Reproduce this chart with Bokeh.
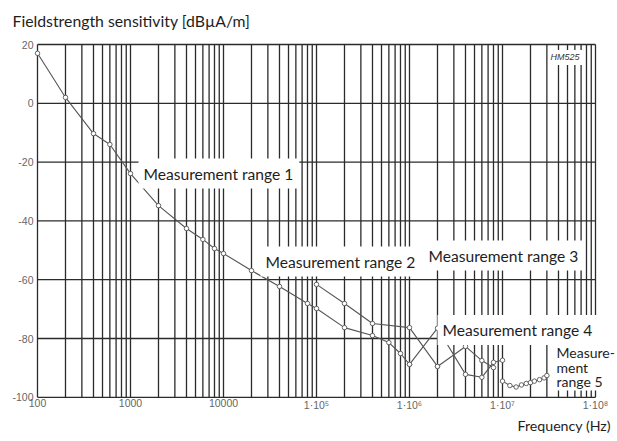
from bokeh.plotting import figure
from bokeh.models import Label, Range1d, BoxAnnotation
from bokeh.core.properties import value
from bokeh.embed import file_html
from bokeh.resources import INLINE

# ---- data ----
r1_freq = [100, 200, 400, 600, 1e3, 2e3, 4e3, 6e3, 8e3, 1e4, 2e4, 4e4, 8e4, 1e5, 2e5, 4e5, 6e5, 8e5, 1e6]
r1_db = [17, 2, -10.3, -14, -23.9, -34.8, -42.6, -46.3, -49.4, -51.1, -56.9, -62.3, -68.1, -69.8, -76.3, -79, -81.4, -85.1, -88.8]

r2_freq = [1e5, 2e5, 4e5, 1e6, 2e6]
r2_db = [-61.6, -68.1, -74.9, -76.3, -89.5]

r3_freq = [1e6, 2e6, 4e6, 6e6, 8e6, 1e7]
r3_db = [-88.8, -76.5, -92.2, -93.2, -88.1, -87.4]

r4_freq = [2e6, 4e6, 6e6, 8e6]
r4_db = [-89.5, -82.7, -87.5, -89.9]

r5_freq = [1.0e7, 1.2e7, 1.4e7, 1.6e7, 1.8e7, 2.0e7, 2.2e7, 2.5e7, 2.8e7, 3.0e7]
r5_db = [-94.5, -96.0, -96.5, -95.8, -95.3, -95.0, -94.5, -94.0, -93.4, -92.6]

series = [(r1_freq, r1_db), (r2_freq, r2_db), (r3_freq, r3_db), (r4_freq, r4_db), (r5_freq, r5_db)]

x_ticks = [1e2, 1e3, 1e4, 1e5, 1e6, 1e7, 1e8]
x_tick_labels = ["100", "1000", "10000", "1\u00b710\u2075", "1\u00b710\u2076", "1\u00b710\u2077", "1\u00b710\u2078"]
y_ticks = [20, 0, -20, -40, -60, -80, -100]
y_tick_labels = ["20", "0", "-20", "-40", "-60", "-80", "-100"]

title_text = "Fieldstrength sensitivity [dB\u00b5A/m]"
xlabel_text = "Frequency (Hz)"
range_labels = ["Measurement range 1", "Measurement range 2", "Measurement range 3",
                "Measurement range 4"]
range5_lines = ["Measure-", "ment", "range 5"]

# ---- layout helpers (pixel placement of the chart frame) ----
W, H = 617, 441
LEFT, TOP, DEC_PX, DB_PX = 37, 44, 93.0, 2.94
F0, DB0 = 100.0, 20.0


def fx(px):
    return F0 * 10 ** ((px - LEFT) / DEC_PX)


def fy(py):
    return DB0 - (py - TOP) / DB_PX


p = figure(width=W, height=H, x_axis_type="log", title=None,
           x_range=Range1d(fx(0), fx(W)), y_range=Range1d(fy(H), fy(0)),
           x_axis_location=None, y_axis_location=None,
           output_backend="svg", toolbar_location=None, min_border=0)
p.outline_line_color = None
p.background_fill_color = "white"
p.border_fill_color = "white"
p.xgrid.visible = False
p.ygrid.visible = False

xmin, xmax = x_ticks[0], x_ticks[-1]
ymin, ymax = min(y_ticks), max(y_ticks)
grid_pos = [m * 10 ** k for k in range(2, 8) for m in range(1, 10)] + [xmax]
GRID = "#2b2b2b"
p.segment(x0=grid_pos, y0=ymin, x1=grid_pos, y1=ymax, line_color=GRID, line_width=1.3)
p.segment(x0=xmin, y0=y_ticks, x1=xmax, y1=y_ticks, line_color=GRID, line_width=1.3)

# tick labels
p.text(x=x_ticks, y=[ymin] * len(x_ticks), text=x_tick_labels, y_offset=2,
       text_align="center", text_baseline="top", text_font=value("Liberation Sans"),
       text_font_size="10.5px", text_color="#666666")
p.text(x=[xmin] * len(y_ticks), y=y_ticks, text=y_tick_labels, x_offset=-4,
       text_align="right", text_baseline="middle", text_font=value("Liberation Sans"),
       text_font_size="10.5px", text_color="#666666")

for f, d in series:
    p.line(f, d, line_color="#555555", line_width=1.1)
    p.scatter(f, d, marker="circle", size=4.5, fill_color="white", line_color="#555555", line_width=0.9)

FONT = "Lato"
FS = "15.6px"
pad = dict(left=5, right=6, top=6, bottom=6)
label_px = [(138, 173), (260, 261), (423, 255), (437, 329.5)]
for (px, py), t in zip(label_px, range_labels):
    p.add_layout(Label(x=fx(px), y=fy(py), text=t, text_font=FONT, text_font_size=FS,
                       text_color="#1e1e1e", text_baseline="middle", text_align="left",
                       background_fill_color="white", padding=pad))

# range 5 label (three lines on one white box)
p.add_layout(BoxAnnotation(left=fx(550), right=fx(W), top=fy(344), bottom=fy(390),
                           fill_color="white", fill_alpha=1.0, line_color=None))
for i, t in enumerate(range5_lines):
    p.add_layout(Label(x=fx(556), y=fy(352 + 14.5 * i), text=t, text_font=FONT, text_font_size="14px",
                       text_color="#1e1e1e", text_baseline="middle", text_align="left"))

p.add_layout(Label(x=fx(548), y=fy(57), text="HM525", text_font="Liberation Sans",
                   text_font_style="italic", text_font_size="9px", text_color="#333333",
                   text_baseline="middle", background_fill_color="white",
                   padding=dict(left=2, right=4, top=2, bottom=3)))

p.add_layout(Label(x=fx(12), y=fy(20), text=title_text, text_font=FONT, text_font_size="15.8px",
                   text_color="#1e1e1e", text_baseline="middle"))
p.add_layout(Label(x=fx(517), y=fy(425), text=xlabel_text, text_font=FONT, text_font_size="14.2px",
                   text_color="#1e1e1e", text_baseline="middle"))

open("out.html", "w").write(file_html(p, INLINE))
